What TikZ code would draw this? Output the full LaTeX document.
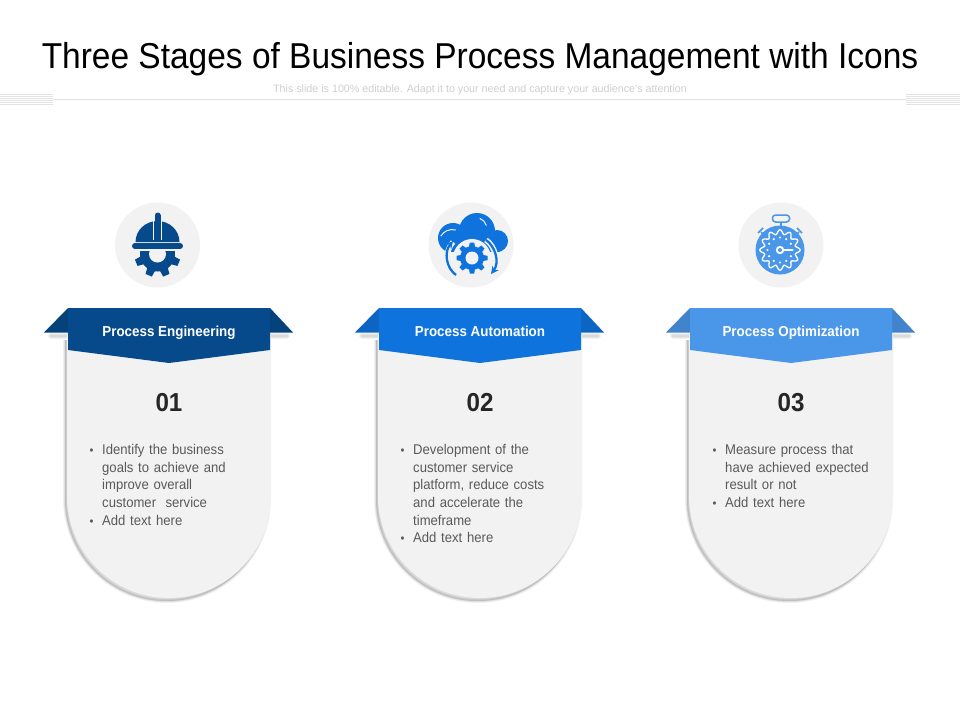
\documentclass[tikz,border=0pt]{standalone}
\usepackage{fontspec}
\usepackage{xcolor}
\setmainfont{Liberation Sans}
\newfontfamily\narrowfont[FakeStretch=0.93]{Liberation Sans}
\definecolor{bgGrey}{HTML}{F2F2F2}
\definecolor{ruleGrey}{HTML}{E3E3E3}
\definecolor{subGrey}{HTML}{CFCFCF}
\definecolor{bodyGrey}{HTML}{595959}
\definecolor{numGrey}{HTML}{262626}
\definecolor{blueA}{HTML}{064A8C}
\definecolor{blueB}{HTML}{0E73DC}
\definecolor{blueC}{HTML}{4A96E8}
\newcommand{\itm}[1]{\par\hangindent=14pt\hangafter=1\noindent\makebox[14pt][l]{\hspace{1.5pt}{\fontsize{12}{12}\selectfont\textbullet}}#1}
% gear: centre, inner r, outer r, half tooth, colour, teeth step, phase
\newcommand{\gearat}[7]{%
\fill[#5] (#1) circle (#2);
\foreach \a in {0,#6,...,359}{\fill[#5, shift={(#1)}, rotate={\a+#7}] ({#2-1},-#4) -- ({#3},{-#4+0.8}) -- ({#3},{#4-0.8}) -- ({#2-1},#4) -- cycle;}
}
\begin{document}
\begin{tikzpicture}[x=1pt, y=-1pt,
ttl/.style = {font = \narrowfont\fontsize{36}{36}\selectfont, text = black, inner sep = 0 pt},
subttl/.style = {font = \fontsize{10.7}{12}\selectfont, text = subGrey, inner sep = 0 pt},
lbl/.style = {font = \narrowfont\bfseries\fontsize{14.4}{16}\selectfont, text = white, inner sep = 0 pt, anchor = base},
num/.style = {font = \narrowfont\bfseries\fontsize{26}{28}\selectfont, text = numGrey, inner sep = 0 pt},
body/.style = {font = \narrowfont\fontsize{14.1}{17.7}\selectfont, text = bodyGrey, inner sep = 0 pt, anchor = north west, text width = 185pt},
disc/.style = {fill = bgGrey, draw = none, circle, minimum size = 85pt, inner sep = 0 pt}
]
\useasboundingbox (0,0) rectangle (960,720);
\fill[white] (0,0) rectangle (960,720);
% header
\node[ttl] (title) at (480,59.5) {Three Stages of Business Process Management with Icons};
\node[subttl] (subtitle) at (480,90) {This slide is 100\% editable. Adapt it to your need and capture your audience's attention};
\draw[ruleGrey, line width = 0.9pt] (53,99.5) -- (906,99.5);
\foreach \y in {94,96,...,104}{
\draw[ruleGrey, line width = 0.8pt] (0,\y) -- (53,\y);
\draw[ruleGrey, line width = 0.8pt] (906,\y) -- (960,\y);
}
% cards
\foreach \c/\clr/\head/\n in {169/blueA/Process Engineering/01, 480/blueB/Process Automation/02, 791/blueC/Process Optimization/03}{
\fill[black, opacity = 0.14] ({\c-102-2},340) -- ({\c-102-2},499) arc[start angle = 180, end angle = 0, x radius = 102, y radius = 102] -- ({\c+102-2},340) -- cycle;
\foreach \w in {4,2.5,1}{
\draw[black, opacity = 0.05, line width = \w pt] ({\c-102-2},340) -- ({\c-102-2},499) arc[start angle = 180, end angle = 0, x radius = 102, y radius = 102] -- ({\c+102-2},340);
}
\foreach \w in {6,4,2}{
\draw[black, opacity = 0.05, line width = \w pt, line cap = round] ({\c-118},335.5) -- ({\c-101},335.5);
\draw[black, opacity = 0.05, line width = \w pt, line cap = round] ({\c+101},335.5) -- ({\c+118},335.5);
}
\fill[bgGrey] ({\c-102},335) -- ({\c-102},496) arc[start angle = 180, end angle = 0, x radius = 102, y radius = 102] -- ({\c+102},335) -- cycle;
\fill[\clr!88!black] ({\c-125},332.5) -- ({\c-101},308) -- ({\c-101},332.5) -- cycle;
\fill[\clr!88!black] ({\c+124},332.5) -- ({\c+101},308) -- ({\c+101},332.5) -- cycle;
\fill[\clr] ({\c-101},308) -- ({\c+101},308) -- ({\c+101},350) -- (\c,363) -- ({\c-101},350) -- cycle;
\node[lbl] (head\n) at (\c,336) {\head};
\node[num] (num\n) at (\c,402.5) {\n};
}
% bullet text
\node[body] (txtA) at (88,436.5) {\itm{Identify the business\newline goals to achieve and\newline improve overall\newline customer\ \ service}\itm{Add text here}};
\node[body] (txtB) at (399,436.5) {\itm{Development of the\newline customer service\newline platform, reduce costs\newline and accelerate the\newline timeframe}\itm{Add text here}};
\node[body] (txtC) at (711,436.5) {\itm{Measure process that\newline have achieved expected\newline result or not}\itm{Add text here}};
% icon discs
\node[disc] (discA) at (157.5,245) {};
\node[disc] (discB) at (471,245) {};
\node[disc] (discC) at (781,245) {};
% helmet and gear
\begin{scope}
\clip (120,251) rectangle (195,285);
\gearat{157.5,254}{17.5}{23}{4.2}{blueA}{45}{22.5}
\end{scope}
\fill[bgGrey] (157.5,254) circle (8.5);
\fill[blueA] (135.5,242) arc[start angle = 180, end angle = 0, x radius = 22, y radius = -21] -- cycle;
\draw[blueA, line width = 6 pt, line cap = round] (135,246) -- (180,246);
\draw[bgGrey, line width = 1.3 pt] (153.5,221) -- (153.5,240);
\draw[bgGrey, line width = 1.3 pt] (161.5,221) -- (161.5,240);
\draw[blueA, line width = 6 pt, line cap = round] (157.5,215.5) -- (157.5,224);
\draw[blueA, line width = 6 pt] (157.5,222) -- (157.5,238);
% cloud
\begin{scope}
\clip (430,205) rectangle (515,251);
\fill[blueB] (477,231) circle (18);
\fill[blueB] (453,238) circle (15);
\fill[blueB] (497,241) circle (11);
\fill[blueB] (450,232) rectangle (500,252);
\end{scope}
\fill[bgGrey] (472,258) circle (19);
\draw[bgGrey, line width = 1 pt, line cap = round] (480,218.5) arc[start angle = -70, end angle = -15, radius = 10];
\draw[bgGrey, line width = 1 pt, line cap = round] (455.5,230) arc[start angle = -75, end angle = -150, radius = 13];
\draw[bgGrey, line width = 5.5 pt] (456,275) .. controls (446,268) and (444,252) .. (453,242);
\draw[bgGrey, line width = 5.5 pt] (486,240) .. controls (495,246) and (500,262) .. (491,273);
\draw[blueB, line width = 2.3 pt, -stealth] (456,275) .. controls (446,268) and (444,252) .. (453,241);
\draw[blueB, line width = 2.3 pt, -stealth] (486,240) .. controls (495,246) and (500,262) .. (491,274);
\gearat{472,258}{12}{15.5}{3}{blueB}{45}{0}
\fill[bgGrey] (472,258) circle (6.5);
% stopwatch
\draw[blueC, line width = 1.5 pt, rounded corners = 3 pt] (772.5,215) rectangle (789.5,222);
\draw[blueC, line width = 2.5 pt] (781,222) -- (781,228);
\draw[blueC, line width = 1.5 pt] (761,232) -- (766,237);
\draw[blueC, line width = 1.5 pt] (758,233) -- (763,228);
\draw[blueC, line width = 1.5 pt] (799,232) -- (794,237);
\draw[blueC, line width = 1.5 pt] (802,233) -- (797,228);
\fill[blueC] (780,250) circle (24.5);
\begin{scope}[shift = {(780,250)}]
\draw[white, line width = 1.3 pt] plot[domain = 0:360, samples = 181, smooth, variable = \t] ({(18+2.2*cos(12*\t))*cos(\t)},{(18+2.2*cos(12*\t))*sin(\t)});
\foreach \a in {0,30,...,330}{\fill[white] (\a:12.5) circle (1.2);}
\draw[white, line width = 1.5 pt] (0,0) -- (13,0);
\fill[white] (0,0) circle (4.2);
\fill[blueC] (0,0) circle (2);
\end{scope}
\end{tikzpicture}
\end{document}
